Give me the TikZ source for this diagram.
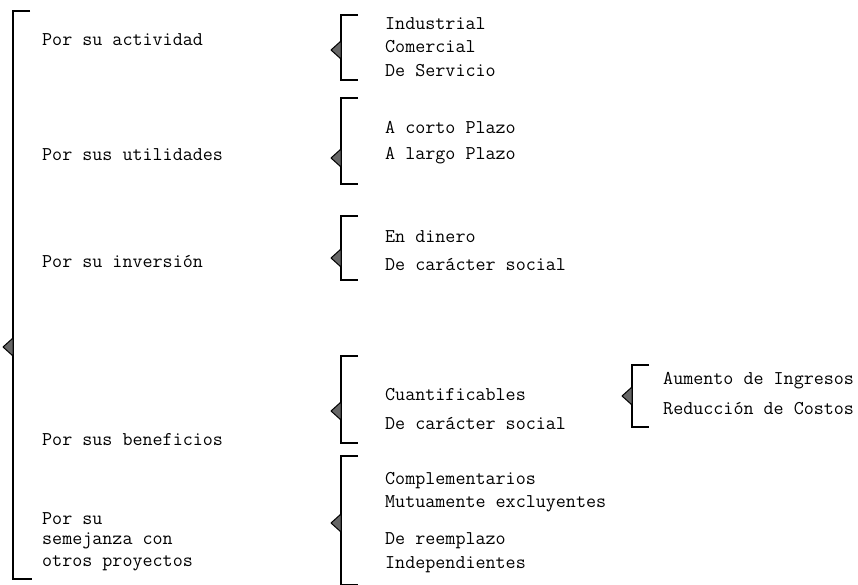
\documentclass[tikz,border=0pt]{standalone}
\usepackage{tikz}
\usetikzlibrary{positioning}

\begin{document}
\begin{tikzpicture}[x=1pt,y=-1pt,
  txt/.style={anchor=west, inner sep=0pt, font=\ttfamily\fontsize{19.5}{22}\selectfont},
  corchete/.style={line width=1.6pt},
  punta/.style={fill=black!60, draw=black, line width=1pt, line join=round}]

 \useasboundingbox (0,0) rectangle (858,585);

 % corchete grande
 \draw[corchete] (30,11) -- (13,11) -- (13,579) -- (32,579);
 \filldraw[punta] (13,338) -- (3,347) -- (13,356) -- cycle;

 % corchetes de cada grupo: x/arriba/abajo/punta
 \foreach \x/\t/\b/\m in {341/15/80/50, 341/98/184/158, 341/216/280/258,
                          341/356/443/411, 341/456/585/523, 632/365/427/396}
 {
   \draw[corchete] (\x+17,\t) -- (\x,\t) -- (\x,\b) -- (\x+17,\b);
   \filldraw[punta] (\x,\m-9) -- (\x-10,\m) -- (\x,\m+9) -- cycle;
 }

 \node[txt] (act)   at (42,40)  {Por su actividad};
 \node[txt] (util)  at (42,155) {Por sus utilidades};
 \node[txt] (inv)   at (42,261) {Por su inversión};
 \node[txt] (benef) at (42,440) {Por sus beneficios};
 \node[txt] (sem1)  at (42,519) {Por su};
 \node[txt] (sem2)  at (42,541) {semejanza con};
 \node[txt] (sem3)  at (42,563) {otros proyectos};

 \node[txt] (ind)   at (385,24)  {Industrial};
 \node[txt] (com)   at (385,47)  {Comercial};
 \node[txt] (serv)  at (385,71)  {De Servicio};
 \node[txt] (corto) at (385,127) {A corto Plazo};
 \node[txt] (largo) at (385,156) {A largo Plazo};
 \node[txt] (din)   at (385,237) {En dinero};
 \node[txt] (soc)   at (385,264) {De carácter social};
 \node[txt] (cuant) at (385,395) {Cuantificables};
 \node[txt] (socb)  at (385,423) {De carácter social};
 \node[txt] (compl) at (385,481) {Complementarios};
 \node[txt] (mutu)  at (385,504) {Mutuamente excluyentes};
 \node[txt] (reem)  at (385,541) {De reemplazo};
 \node[txt] (indep) at (385,565) {Independientes};

 \node[txt] (aum)   at (663,381) {Aumento de Ingresos};
 \node[txt] (red)   at (663,409) {Reducción de Costos};
\end{tikzpicture}
\end{document}
